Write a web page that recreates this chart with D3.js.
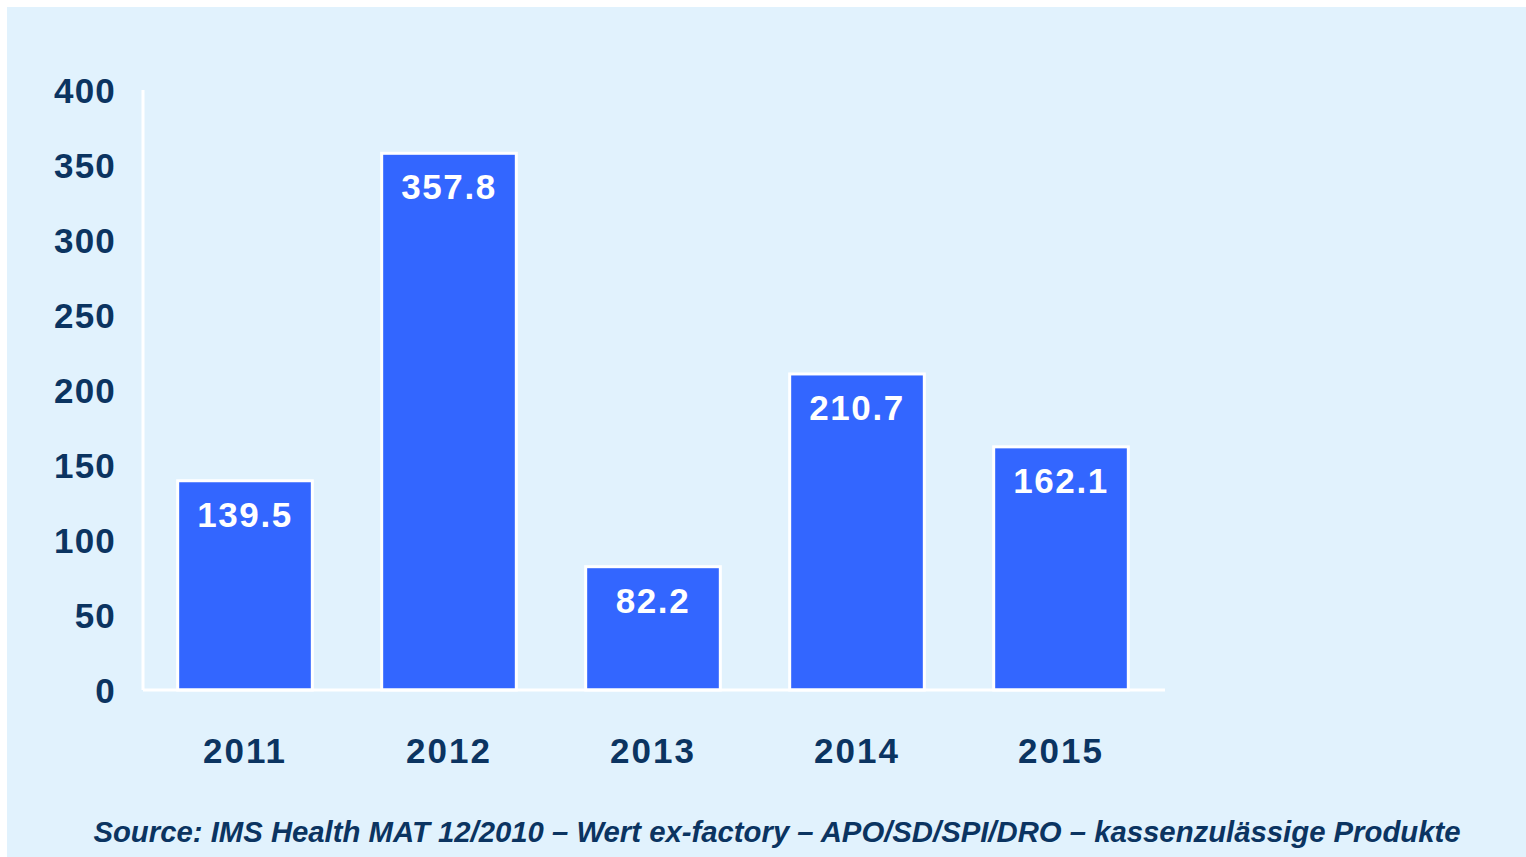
<!DOCTYPE html>
<html>
<head>
<meta charset="utf-8">
<script src="https://cdn.jsdelivr.net/npm/d3@7"></script>
<style>
  body { margin: 0; background: #fff; }
  svg { display: block; font-family: "Liberation Sans", Arial, sans-serif; }
</style>
</head>
<body>
<svg id="chart"></svg>
<script>
const years = ['2011', '2012', '2013', '2014', '2015'];
const values = [139.5, 357.8, 82.2, 210.7, 162.1];
const yTicks = [0, 50, 100, 150, 200, 250, 300, 350, 400];
const sourceText = 'Source: IMS Health MAT 12/2010 \u2013 Wert ex-factory \u2013 APO/SD/SPI/DRO \u2013 kassenzul\u00e4ssige Produkte';

const width = 1526;
const height = 857;
const navy = '#0b3461';

const svg = d3.select('#chart')
  .attr('width', width)
  .attr('height', height)
;

// panel background
svg.append('rect')
  .attr('x', 7)
  .attr('y', 7)
  .attr('width', width - 7)
  .attr('height', height - 7)
  .attr('fill', '#e1f2fd')
;

const x = d3.scaleBand()
  .domain(years)
  .range([143, 1163])
  .paddingInner(0.34)
  .paddingOuter(0.17)
;
const y = d3.scaleLinear()
  .domain([0, 400])
  .range([690, 90])
;

// axis lines
svg.append('line')
  .attr('x1', 143).attr('x2', 143)
  .attr('y1', y(400)).attr('y2', y(0))
  .attr('stroke', '#fff')
  .attr('stroke-width', 3)
;

// bars
svg.append('g')
  .selectAll('rect')
  .data(values)
  .enter().append('rect')
  .attr('x', (d, i) => x(years[i]))
  .attr('y', d => y(d))
  .attr('width', x.bandwidth())
  .attr('height', d => y(0) - y(d))
  .attr('fill', '#3366ff')
  .attr('stroke', '#fff')
  .attr('stroke-width', 3)
;

svg.append('line')
  .attr('x1', 143).attr('x2', 1165)
  .attr('y1', y(0)).attr('y2', y(0))
  .attr('stroke', '#fff')
  .attr('stroke-width', 3)
;

// value labels
svg.append('g')
  .selectAll('text')
  .data(values)
  .enter().append('text')
  .attr('x', (d, i) => x(years[i]) + x.bandwidth() / 2)
  .attr('y', d => y(d) + 46)
  .attr('text-anchor', 'middle')
  .attr('fill', '#fff')
  .attr('font-size', 35)
  .attr('font-weight', 'bold')
  .attr('letter-spacing', 1.6)
  .text(d => d.toFixed(1))
;

// y axis
const yAxis = svg.append('g')
  .attr('transform', 'translate(143,0)')
  .call(d3.axisLeft(y).tickValues(yTicks).tickSize(0).tickPadding(27))
;
yAxis.select('.domain').remove();
yAxis.selectAll('text')
  .attr('fill', navy)
  .attr('font-size', 35)
  .attr('font-weight', 'bold')
  .attr('letter-spacing', 1.2)
  .attr('font-family', '"Liberation Sans", Arial, sans-serif')
  .attr('dy', '0.35em')
;

// x axis
const xAxis = svg.append('g')
  .attr('transform', 'translate(0,' + y(0) + ')')
  .call(d3.axisBottom(x).tickSize(0).tickPadding(48))
;
xAxis.select('.domain').remove();
xAxis.selectAll('text')
  .attr('fill', navy)
  .attr('font-size', 35)
  .attr('font-weight', 'bold')
  .attr('letter-spacing', 2)
  .attr('font-family', '"Liberation Sans", Arial, sans-serif')
;

// source
svg.append('text')
  .attr('x', 777)
  .attr('y', 842)
  .attr('text-anchor', 'middle')
  .attr('fill', navy)
  .attr('font-size', 29.3)
  .attr('font-weight', 'bold')
  .attr('font-style', 'italic')
  .text(sourceText)
;
</script>
</body>
</html>
